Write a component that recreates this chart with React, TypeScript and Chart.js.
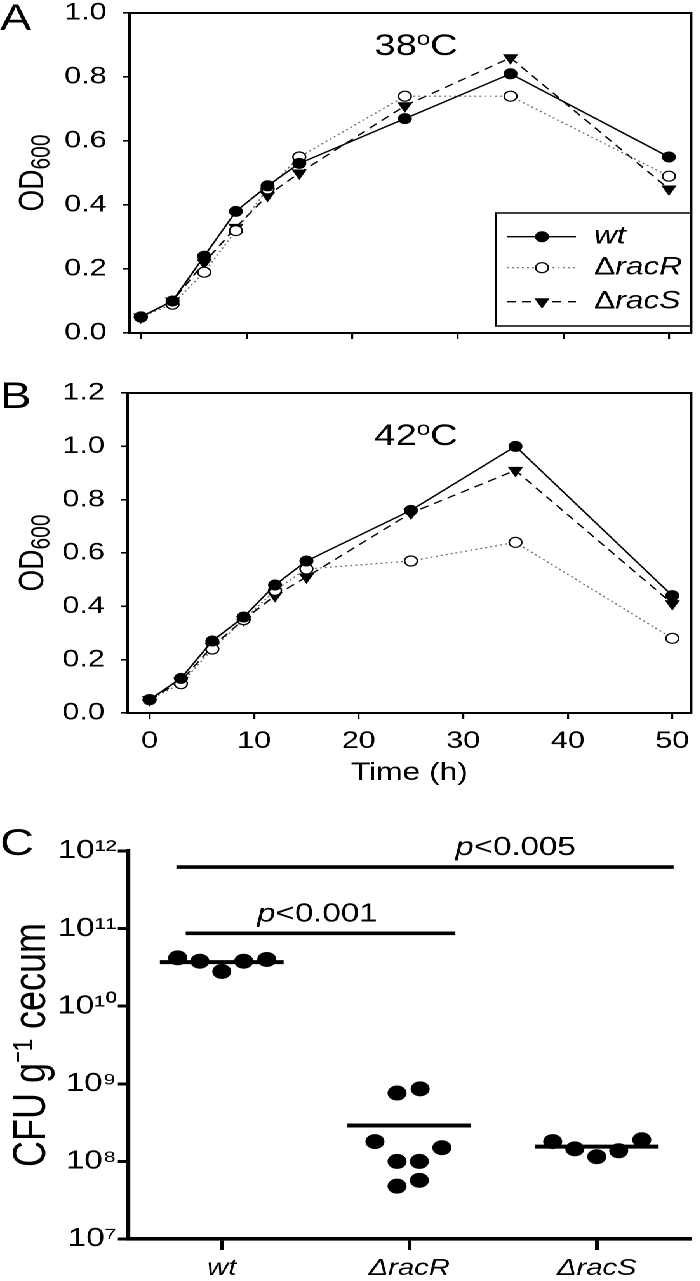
import React, { useEffect, useRef } from "react";
import { Chart, registerables } from "chart.js";
Chart.register(...registerables);

// ---------- data ----------
const timeHours = [0, 3, 6, 9, 12, 15, 25, 35, 50];
const timeTicks = [0, 10, 20, 30, 40, 50];
const odTicksA = [0, 0.2, 0.4, 0.6, 0.8, 1.0];
const odTicksB = [0, 0.2, 0.4, 0.6, 0.8, 1.0, 1.2];
const strainNames = ["wt", "ΔracR", "ΔracS"];
const temps = ["38", "42"];

const wt38 = [0.05, 0.10, 0.24, 0.38, 0.46, 0.53, 0.67, 0.81, 0.55];
const racR38 = [0.05, 0.09, 0.19, 0.32, 0.45, 0.55, 0.74, 0.74, 0.49];
const racS38 = [0.05, 0.10, 0.22, 0.33, 0.43, 0.50, 0.71, 0.86, 0.45];

const wt42 = [0.05, 0.13, 0.27, 0.36, 0.48, 0.57, 0.76, 1.0, 0.44];
const racR42 = [0.05, 0.11, 0.24, 0.35, 0.46, 0.54, 0.57, 0.64, 0.28];
const racS42 = [0.05, 0.12, 0.25, 0.35, 0.44, 0.51, 0.75, 0.91, 0.41];

const cfuWt = [4.2e10, 3.8e10, 2.8e10, 3.8e10, 4.0e10];
const cfuRacR = [7.6e8, 8.6e8, 1.8e8, 1.5e8, 1.0e8, 1.0e8, 4.8e7, 5.7e7];
const cfuRacS = [1.8e8, 1.45e8, 1.15e8, 1.37e8, 1.9e8];
const cfuMeans = [3.7e10, 2.9e8, 1.55e8];
const cfuTickExps = [7, 8, 9, 10, 11, 12];
const pLabels = ["p<0.001", "p<0.005"];
const pLevels = [8.7e10, 6.2e11];

// ---------- layout (not data) ----------
const S = 1.27; // horizontal stretch of the whole figure
const W = 700 / S;
const FONT = "'Liberation Sans', Arial, Helvetica, sans-serif";
const JIT5 = [-0.235, -0.117, 0, 0.117, 0.24];
const JIT_R = [-0.065, 0.058, -0.183, 0.174, -0.065, 0.054, -0.065, 0.054];
const SIG_SPANS = [[-0.192, 1.246], [-0.242, 2.41]];
const SIG_TEXT_X = [0.51, 1.567];
const MEAN_HALF = 0.33;

Chart.defaults.font.family = FONT;
Chart.defaults.color = "#000";

const SUP = "⁰¹²³⁴⁵⁶⁷⁸⁹";
const sup = (n: number) => String(n).split("").map((d) => SUP[+d]).join("");

function growthDatasets(wt: number[], racR: number[], racS: number[]) {
  const pts = (arr: number[]) => timeHours.map((t, i) => ({ x: t, y: arr[i] }));
  return [
    {
      label: strainNames[0], data: pts(wt), borderColor: "#000", borderWidth: 1.4, borderDash: [],
      pointStyle: "circle", pointRadius: 5, pointBackgroundColor: "#000", pointBorderColor: "#000", pointBorderWidth: 1,
    },
    {
      label: strainNames[1], data: pts(racR), borderColor: "#666", borderWidth: 1.2, borderDash: [1.5, 2.5],
      pointStyle: "circle", pointRadius: 5, pointBackgroundColor: "#fff", pointBorderColor: "#000", pointBorderWidth: 1.2,
    },
    {
      label: strainNames[2], data: pts(racS), borderColor: "#000", borderWidth: 1.3, borderDash: [7, 5],
      pointStyle: "triangle", pointRotation: 180, pointRadius: 6, pointBackgroundColor: "#000", pointBorderColor: "#000", pointBorderWidth: 1,
    },
  ];
}

function drawMarker(ctx: CanvasRenderingContext2D, ds: any, x: number, y: number) {
  ctx.save();
  ctx.setLineDash([]);
  ctx.fillStyle = ds.pointBackgroundColor;
  ctx.strokeStyle = ds.pointBorderColor;
  ctx.lineWidth = ds.pointBorderWidth;
  ctx.beginPath();
  const r = ds.pointRadius;
  if (ds.pointStyle === "triangle") {
    ctx.moveTo(x - r * 0.866, y - r * 0.5);
    ctx.lineTo(x + r * 0.866, y - r * 0.5);
    ctx.lineTo(x, y + r);
    ctx.closePath();
  } else {
    ctx.arc(x, y, r, 0, Math.PI * 2);
  }
  ctx.fill();
  ctx.stroke();
  ctx.restore();
}

// draws "Δ" upright and the rest of a strain name in italics
function drawStrain(ctx: CanvasRenderingContext2D, name: string, x: number, y: number, size: number) {
  let cx = x;
  if (name.startsWith("Δ")) {
    ctx.font = `${size}px ${FONT}`;
    ctx.fillText("Δ", cx, y);
    cx += ctx.measureText("Δ").width;
    name = name.slice(1);
  }
  ctx.font = `italic ${size}px ${FONT}`;
  ctx.fillText(name, cx, y);
}

// rotated "OD" with subscript "600"
function drawODTitle(ctx: CanvasRenderingContext2D, baselineX: number, centerY: number) {
  ctx.save();
  ctx.font = `28px ${FONT}`;
  const w1 = ctx.measureText("OD").width;
  ctx.font = `21px ${FONT}`;
  const w2 = ctx.measureText("600").width;
  ctx.translate(baselineX, centerY);
  ctx.rotate(-Math.PI / 2);
  ctx.fillStyle = "#000";
  ctx.textAlign = "left";
  ctx.textBaseline = "alphabetic";
  const x0 = -(w1 + w2) / 2;
  ctx.font = `28px ${FONT}`;
  ctx.fillText("OD", x0, 0);
  ctx.font = `21px ${FONT}`;
  ctx.fillText("600", x0 + w1, 5);
  ctx.restore();
}

function growthPlugin(p: any) {
  return {
    id: "growthDecor" + p.letter,
    afterDraw(chart: any) {
      const { ctx, chartArea: a } = chart;
      ctx.save();
      // frame (top + right)
      ctx.strokeStyle = "#000";
      ctx.lineWidth = 2;
      ctx.beginPath();
      ctx.moveTo(a.left, a.top);
      ctx.lineTo(a.right, a.top);
      ctx.lineTo(a.right, a.bottom);
      ctx.stroke();
      // y title
      drawODTitle(ctx, 34, (a.top + a.bottom) / 2);
      // panel letter
      ctx.fillStyle = "#000";
      ctx.textAlign = "left";
      ctx.textBaseline = "alphabetic";
      ctx.font = `37px ${FONT}`;
      ctx.fillText(p.letter, 0, p.letterBaseline);
      // temperature
      const cx = 327.6;
      ctx.font = `30px ${FONT}`;
      const wNum = ctx.measureText(p.temp).width;
      const wC = ctx.measureText("C").width;
      ctx.font = `19px ${FONT}`;
      const wo = ctx.measureText("o").width;
      const x0 = cx - (wNum + wo + wC) / 2;
      ctx.font = `30px ${FONT}`;
      ctx.fillText(p.temp, x0, p.tempBaseline);
      ctx.font = `19px ${FONT}`;
      ctx.fillText("o", x0 + wNum, p.tempBaseline - 10);
      ctx.font = `30px ${FONT}`;
      ctx.fillText("C", x0 + wNum + wo, p.tempBaseline);
      // legend
      if (p.legend) {
        const bx = 390.6, by = 213, bh = 113;
        ctx.lineWidth = 1.5;
        ctx.strokeStyle = "#000";
        ctx.strokeRect(bx, by, a.right - bx, bh);
        const rows = [236.7, 267.7, 301.7];
        chart.data.datasets.forEach((ds: any, i: number) => {
          const y = rows[i];
          ctx.save();
          ctx.strokeStyle = ds.borderColor;
          ctx.lineWidth = ds.borderWidth;
          ctx.setLineDash(ds.borderDash || []);
          ctx.beginPath();
          ctx.moveTo(399, y);
          ctx.lineTo(453.5, y);
          ctx.stroke();
          ctx.restore();
          drawMarker(ctx, ds, 426.8, y);
          ctx.fillStyle = "#000";
          ctx.textBaseline = "middle";
          drawStrain(ctx, ds.label, 467.7, y, 25);
        });
      }
      ctx.restore();
    },
  };
}

function growthConfig(p: any) {
  const tickGrid = (len: number) => ({
    drawOnChartArea: false, drawTicks: true, tickLength: len, color: "#000", tickColor: "#000", tickWidth: 1.6, lineWidth: 1.6,
  });
  return {
    type: "line",
    data: { datasets: growthDatasets(p.wt, p.racR, p.racS) },
    options: {
      animation: false,
      responsive: true,
      maintainAspectRatio: false,
      devicePixelRatio: 2,
      layout: { padding: { top: p.padTop, right: 2.4, left: 0, bottom: 0 } },
      plugins: { legend: { display: false }, tooltip: { enabled: false } },
      scales: {
        x: {
          type: "linear", min: p.xMin, max: p.xMax,
          afterBuildTicks: (s: any) => { s.ticks = timeTicks.map((v) => ({ value: v })); },
          afterFit: (s: any) => { s.height = p.xAxisH; s.paddingLeft = 0; s.paddingRight = 0; },
          grid: tickGrid(6),
          border: { display: true, color: "#000", width: 2 },
          ticks: { display: p.showX, padding: 8, color: "#000", font: { size: 24 }, maxRotation: 0, autoSkip: false },
          title: { display: p.showX, text: "Time (h)", color: "#000", font: { size: 25 }, padding: { top: 0, bottom: 12 } },
        },
        y: {
          type: "linear", min: 0, max: p.yTicks[p.yTicks.length - 1],
          afterBuildTicks: (s: any) => { s.ticks = p.yTicks.map((v: number) => ({ value: v })); },
          afterFit: (s: any) => { s.width = p.yAxisW; s.paddingTop = 0; s.paddingBottom = 0; },
          grid: tickGrid(5),
          border: { display: true, color: "#000", width: 2 },
          ticks: { padding: 13, color: "#000", font: { size: 24 }, callback: (v: any) => Number(v).toFixed(1) },
          title: { display: false, text: "OD600" },
        },
      },
    },
    plugins: [growthPlugin(p)],
  };
}

function cfuConfig() {
  const groups = [cfuWt, cfuRacR, cfuRacS];
  const jit = [JIT5, JIT_R, JIT5];
  const pointSets = groups.map((vals, i) => ({
    type: "scatter",
    label: strainNames[i],
    data: vals.map((v, j) => ({ x: i + jit[i][j], y: v })),
    pointRadius: 7.5, pointBackgroundColor: "#000", pointBorderColor: "#000", pointBorderWidth: 0, showLine: false,
  }));
  const meanSets = cfuMeans.map((m, i) => ({
    type: "line",
    label: "mean " + strainNames[i],
    data: [{ x: i - MEAN_HALF, y: m }, { x: i + MEAN_HALF, y: m }],
    borderColor: "#000", borderWidth: 4, pointRadius: 0,
  }));
  const sigSets = pLevels.map((lv, i) => ({
    type: "line",
    label: pLabels[i],
    data: [{ x: SIG_SPANS[i][0], y: lv }, { x: SIG_SPANS[i][1], y: lv }],
    borderColor: "#000", borderWidth: 3.6, pointRadius: 0,
  }));
  const tickGrid = (len: number) => ({
    drawOnChartArea: false, drawTicks: true, tickLength: len, color: "#000", tickColor: "#000", tickWidth: 3, lineWidth: 3,
  });
  return {
    type: "scatter",
    data: { datasets: [...pointSets, ...meanSets, ...sigSets] },
    options: {
      animation: false,
      responsive: true,
      maintainAspectRatio: false,
      devicePixelRatio: 2,
      layout: { padding: { top: 51, right: 1.6, left: 0, bottom: 0 } },
      plugins: { legend: { display: false }, tooltip: { enabled: false } },
      scales: {
        x: {
          type: "linear", min: -0.5, max: 2.5,
          afterBuildTicks: (s: any) => { s.ticks = strainNames.map((_, i) => ({ value: i })); },
          afterFit: (s: any) => { s.height = 42; s.paddingLeft = 0; s.paddingRight = 0; },
          grid: tickGrid(11),
          border: { display: true, color: "#000", width: 3.6 },
          ticks: { padding: 5, color: "#000", font: { size: 23, style: "italic" }, maxRotation: 0, autoSkip: false,
            callback: (v: any) => strainNames[Math.round(Number(v))] },
        },
        y: {
          type: "logarithmic", min: Math.pow(10, cfuTickExps[0]), max: Math.pow(10, cfuTickExps[cfuTickExps.length - 1]),
          afterBuildTicks: (s: any) => { s.ticks = cfuTickExps.map((e) => ({ value: Math.pow(10, e) })); },
          afterFit: (s: any) => { s.width = 100.8; s.paddingTop = 0; s.paddingBottom = 0; },
          grid: tickGrid(8),
          border: { display: true, color: "#000", width: 3.6 },
          ticks: { padding: 1, color: "#000", font: { size: 26 },
            callback: (v: any) => "10" + sup(Math.round(Math.log10(Number(v)))) },
          title: { display: true, text: "CFU g⁻¹ cecum", color: "#000", font: { size: 36 }, padding: { top: 4, bottom: 0 } },
        },
      },
    },
    plugins: [
      {
        id: "cfuDecor",
        afterDraw(chart: any) {
          const { ctx, scales } = chart;
          ctx.save();
          ctx.fillStyle = "#000";
          ctx.textAlign = "left";
          ctx.textBaseline = "alphabetic";
          ctx.font = `37px ${FONT}`;
          ctx.fillText("C", 0, 55);
          pLabels.forEach((lab, i) => {
            const px = scales.x.getPixelForValue(SIG_TEXT_X[i]);
            const py = scales.y.getPixelForValue(pLevels[i]) - 12;
            const it = `italic 26px ${FONT}`, rg = `26px ${FONT}`;
            ctx.font = it;
            const w1 = ctx.measureText(lab[0]).width;
            ctx.font = rg;
            const w2 = ctx.measureText(lab.slice(1)).width;
            const sx = px - (w1 + w2) / 2;
            ctx.font = it;
            ctx.fillText(lab[0], sx, py);
            ctx.font = rg;
            ctx.fillText(lab.slice(1), sx + w1, py);
          });
          ctx.restore();
        },
      },
    ],
  };
}

function ChartBox({ top, height, make }: { top: number; height: number; make: () => any }) {
  const ref = useRef<HTMLCanvasElement>(null);
  useEffect(() => {
    const chart = new Chart(ref.current as HTMLCanvasElement, make());
    return () => chart.destroy();
  }, []);
  return (
    <div style={{ position: "absolute", left: 0, top, width: W, height }}>
      <canvas ref={ref} />
    </div>
  );
}

export default function App() {
  const cfgA = () =>
    growthConfig({
      wt: wt38, racR: racR38, racS: racS38, yTicks: odTicksA, xMin: -1.07, xMax: 52.1, showX: false,
      padTop: 13, xAxisH: 12, yAxisW: 102, temp: temps[0], tempBaseline: 55, letter: "A", letterBaseline: 30, legend: true,
    });
  const cfgB = () =>
    growthConfig({
      wt: wt42, racR: racR42, racS: racS42, yTicks: odTicksB, xMin: -2.1, xMax: 51.8, showX: true,
      padTop: 43, xAxisH: 87, yAxisW: 100.5, temp: temps[1], tempBaseline: 95, letter: "B", letterBaseline: 58, legend: false,
    });
  return (
    <div
      style={{
        position: "absolute", left: 0, top: 0, width: W, height: 1281, background: "#fff",
        transform: `scaleX(${S})`, transformOrigin: "0 0", overflow: "hidden",
      }}
    >
      <ChartBox top={0} height={345} make={cfgA} />
      <ChartBox top={350} height={450} make={cfgB} />
      <ChartBox top={800} height={481} make={cfuConfig} />
    </div>
  );
}
